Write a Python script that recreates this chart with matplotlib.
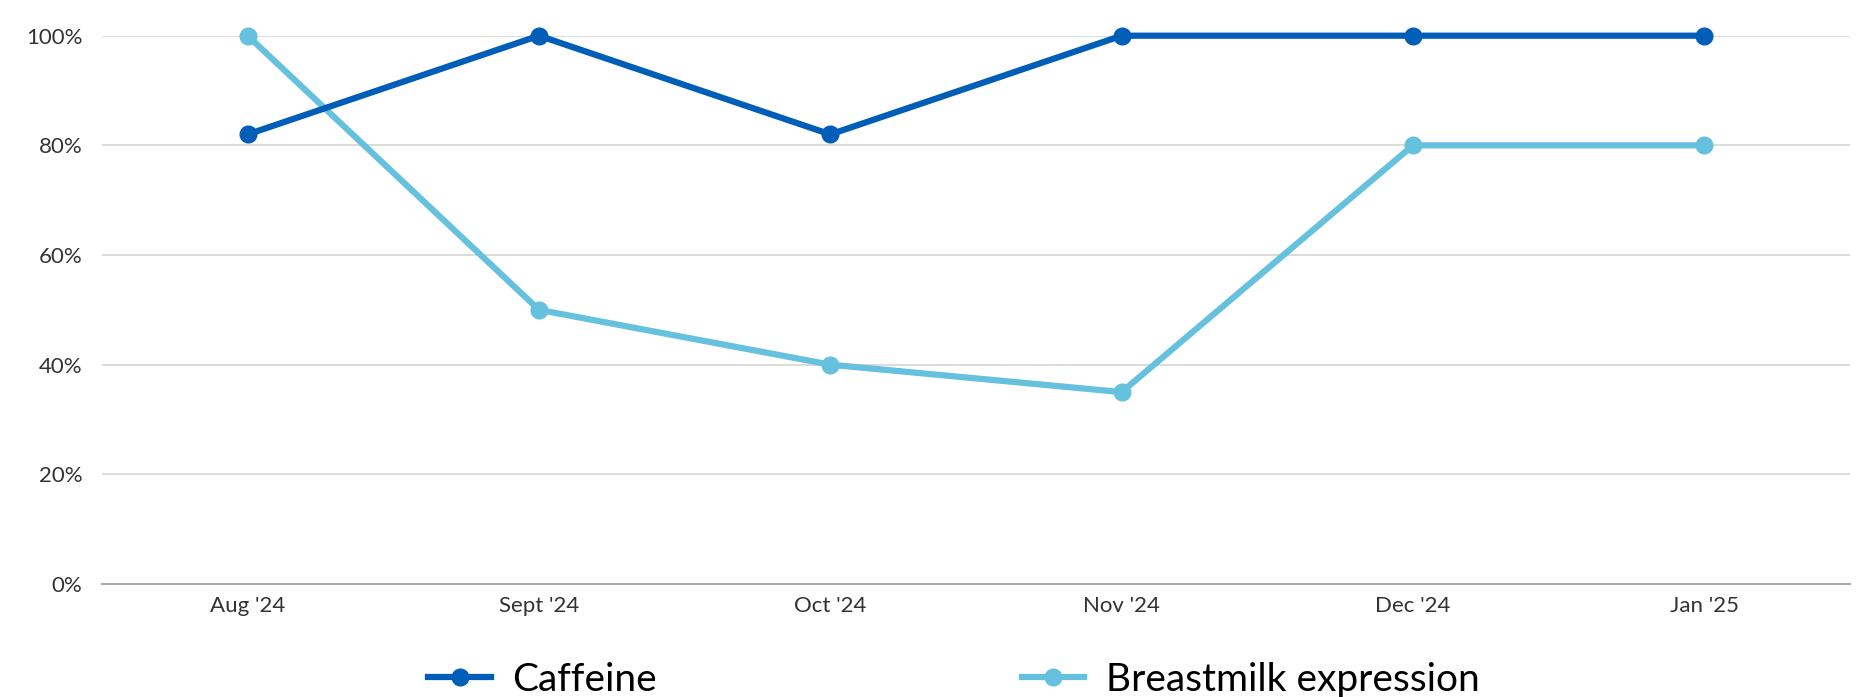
import matplotlib
matplotlib.use("Agg")
import matplotlib.pyplot as plt
from matplotlib.ticker import FuncFormatter

months = ["Aug '24", "Sept '24", "Oct '24", "Nov '24", "Dec '24", "Jan '25"]
caffeine = [82, 100, 82, 100, 100, 100]
breastmilk = [100, 50, 40, 35, 80, 80]
yticks = [0, 20, 40, 60, 80, 100]

plt.rcParams['font.family'] = ['Lato', 'DejaVu Sans']

fig = plt.figure(figsize=(18.65, 6.97), dpi=100)
ax = fig.add_axes([102/1865, 1 - 584/697, (1850-102)/1865, (584-35.7)/697])

x = list(range(len(months)))
c1 = '#005EB8'
c2 = '#65C1DE'
ax.plot(x, caffeine, color=c1, lw=4.5, marker='o', ms=12, clip_on=False, zorder=4, label='Caffeine')
ax.plot(x, breastmilk, color=c2, lw=4.5, marker='o', ms=12, clip_on=False, zorder=3, label='Breastmilk expression')

ax.set_xlim(-0.5, 5.5)
ax.set_ylim(0, 100)
ax.set_yticks(yticks)
ax.yaxis.set_major_formatter(FuncFormatter(lambda v, p: f"{int(v)}%"))
ax.set_xticks(x)
ax.set_xticklabels(months)
ax.grid(axis='y', color='#d9d9d9', lw=1.3)
ax.set_axisbelow(True)
for s in ['top', 'right', 'left']:
    ax.spines[s].set_visible(False)
ax.spines['bottom'].set_color('#aaaaaa')
ax.spines['bottom'].set_linewidth(1.5)
ax.tick_params(axis='both', length=0, labelsize=16, colors='#333333')
ax.tick_params(axis='y', pad=14)
ax.tick_params(axis='x', pad=9)

fig.legend(loc='center', bbox_to_anchor=(954/1865, 1 - 680/697), ncol=2, frameon=False,
           fontsize=28, handlelength=1.6, handletextpad=0.55, columnspacing=9.4,
           markerscale=1.0)

fig.savefig('out.png', dpi=100, facecolor='white')
